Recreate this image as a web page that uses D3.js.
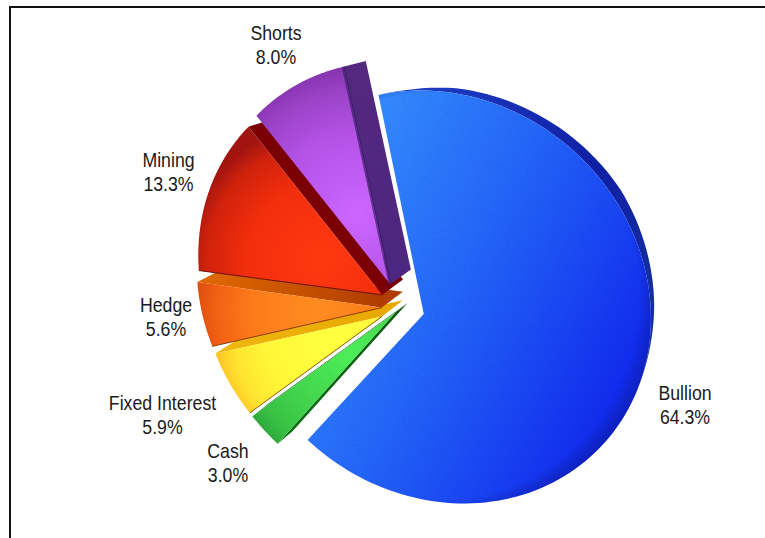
<!DOCTYPE html>
<html>
<head>
<meta charset="utf-8">
<style>
  html, body { margin: 0; background: #fff; }
  svg { display: block; }
  text { font-family: "Liberation Sans", Arial, sans-serif; font-size: 20.5px; fill: #1a1a1a; text-anchor: middle; }
</style>
</head>
<body>
<svg id="chart" width="765" height="538"></svg>
<script src="https://cdn.jsdelivr.net/npm/d3@7"></script>
<script>
// Portfolio shares, in pie order (clockwise from the top of the Bullion slice)
const categories = ["Bullion", "Cash", "Fixed Interest", "Hedge", "Mining", "Shorts"];
const shares = [64.3, 3.0, 5.9, 5.6, 13.3, 8.0];

// Painting order: the slices overlap from lower left up to the top
const faceStops = [
  null,
  ["#4cee58", "#42d44c", "#38c044", "#2ca43a"],
  ["#ffff40", "#fff838", "#ffe430", "#ffc628"],
  ["#ff8c20", "#fc7c1a", "#f26214", "#e25010"],
  ["#ff3810", "#f22e0c", "#d0220c", "#a21410"],
  ["#cc66ff", "#b452e6", "#9a42c6", "#8634ae"]
];
const bullionStops = ["#358cff", "#2466fa", "#122cf0"];
const wallStops = [
  ["#2448d0", "#0f1fa4"],
  ["#0c7014", "#0a5a10"],
  ["#f0b810", "#e8a800"],
  ["#e06a00", "#b03c00"],
  ["#7a0004", "#7a0004"],
  ["#54287f", "#4c2680"]
];
const seamColors = [null, null, "#8a5a00", "#8a3a00", "#6b1000", null];

// Pie plane: slice offsets and radii, in units of the pie radius
const explodeX = [0, -0.1367, -0.2042, -0.2024, -0.1982, -0.1557];
const explodeY = [0, 0.0038, 0.0289, -0.0146, -0.0768, -0.1303];
const radiusScale = [0.98, 1.04, 0.9709, 0.987, 0.9735, 0.9672];
const wallDepth = [0.027, 0.025, 0.042, 0.042, 0.042, 0.042];

const labelX = [685, 228, 162.5, 166, 168.5, 276];
const labelY = [400, 458, 410, 312, 167, 40];

// Homography taking the pie plane to the page, and the point the walls recede to
const view = [170.52, 45.152, 423.76, -12.491, 236.22, 313.95, -0.09345, 0.09131];
const vanish = [880, -70];

function project(u, v) {
  const w = 1 + view[6] * u + view[7] * v;
  return [(view[0] * u + view[1] * v + view[2]) / w, (view[3] * u + view[4] * v + view[5]) / w];
}

const svg = d3.select("#chart");
const defs = svg.append("defs");
const line = d3.line();
const deg = Math.PI / 180;

const slices = d3.pie().sort(null).startAngle(-10 * deg).endAngle(350 * deg)(shares);

// Frame across the top and down the left side
svg.append("path")
  .attr("d", "M10,538V7H765")
  .attr("fill", "none").attr("stroke", "#111").attr("stroke-width", 2);

// Light grain over the blue face
const grain = defs.append("filter").attr("id", "grain")
  .attr("x", 0).attr("y", 0).attr("width", 1).attr("height", 1);
grain.append("feTurbulence").attr("type", "fractalNoise").attr("baseFrequency", 0.8).attr("numOctaves", 2).attr("seed", 4);
grain.append("feColorMatrix").attr("type", "matrix")
  .attr("values", "0 0 0 0 0  0 0 0 0 0  0 0 0 0 0  1.2 0 0 0 -0.5");
grain.append("feComposite").attr("in2", "SourceAlpha").attr("operator", "in");

function gradient(kind, id, attrs, stops, offsets) {
  const g = defs.append(kind).attr("id", id).attr("gradientUnits", "userSpaceOnUse");
  Object.entries(attrs).forEach(([k, v]) => g.attr(k, v));
  stops.forEach((c, i) => {
    const s = g.append("stop").attr("offset", offsets[i]).attr("stop-color", c.split("|")[0]);
    if (c.includes("|")) s.attr("stop-opacity", +c.split("|")[1]);
  });
  return `url(#${id})`;
}

slices.forEach((d, i) => {
  const g = svg.append("g").attr("class", "slice");
  const ex = explodeX[i], ey = explodeY[i], r = radiusScale[i];
  const angles = d3.range(0, 121).map(k => d.startAngle + (d.endAngle - d.startAngle) * k / 120);
  const arcPts = angles.map(t => project(ex + r * Math.sin(t), ey - r * Math.cos(t)));
  const apex = project(ex, ey);
  const start = arcPts[0], end = arcPts[arcPts.length - 1], mid = arcPts[60];
  const recede = (p, t) => [p[0] + (vanish[0] - p[0]) * t, p[1] + (vanish[1] - p[1]) * t];
  const depth = wallDepth[i];

  const wallFill = gradient("linearGradient", `wall${i}`,
    { x1: end[0], y1: end[1], x2: apex[0], y2: apex[1] }, wallStops[i], [0, 1]);

  if (i === 0) {
    // Only the rim of the large slice shows, fading out towards its right side
    const profile = d3.scaleLinear().domain([-10, 6, 55, 85, 104]).range([0, 0.85, 1, 0.55, 0]).clamp(true);
    const back = arcPts.map((p, k) => recede(p, depth * profile(angles[k] / deg)));
    const rimFill = gradient("linearGradient", "rim0",
      { x1: start[0], y1: start[1], x2: 650, y2: 320 }, ["#1f3fc8", "#0f1fa4", "#14309e"], [0, 0.6, 1]);
    g.append("path")
      .attr("d", line(arcPts.concat(back.slice().reverse())) + "Z")
      .attr("fill", rimFill);
  } else {
    // Cut faces along the radial edges
    const walls = i === 1 ? [start, end] : [end];
    walls.forEach(p => {
      g.append("path")
        .attr("d", line([apex, p, recede(p, depth), recede(apex, depth)]) + "Z")
        .attr("fill", wallFill);
    });
  }

  const facePath = line([apex, ...arcPts]) + "Z";
  if (i === 0) {
    const base = gradient("linearGradient", "face0",
      { x1: 330, y1: 190, x2: 640, y2: 350 }, bullionStops, [0, 0.45, 1]);
    const rim = gradient("radialGradient", "shade0",
      { cx: 436, cy: 297, r: 219 }, ["#0a1478|0", "#0a1478|0", "#0a1478|0.35"], [0, 0.93, 1]);
    g.append("path").attr("d", facePath).attr("fill", base);
    g.append("path").attr("d", facePath).attr("fill", rim);
    g.append("path").attr("d", facePath).attr("fill", "#000").attr("filter", "url(#grain)").attr("opacity", 0.14);
  } else {
    const c = [apex[0] + (mid[0] - apex[0]) * 0.35, apex[1] + (mid[1] - apex[1]) * 0.35];
    const radius = Math.hypot(mid[0] - apex[0], mid[1] - apex[1]) * 0.67;
    const fill = gradient("radialGradient", `face${i}`,
      { cx: c[0], cy: c[1], r: radius }, faceStops[i], [0, 0.55, 0.85, 1]);
    g.append("path").attr("d", facePath).attr("fill", fill);
  }

  if (seamColors[i]) {
    g.append("path").attr("d", line([start, apex])).attr("fill", "none")
      .attr("stroke", seamColors[i]).attr("stroke-width", 1);
  }
  if (i === 5) {
    // Soft shadow where the purple face meets its cut face
    g.append("path").attr("d", line([end, apex])).attr("fill", "none")
      .attr("stroke", "#3a1a68").attr("stroke-width", 3).attr("opacity", 0.7);
  }
});

// Category name above its share, in a tall narrow setting
const fmt = d3.format(".1f");
const labels = svg.append("g").selectAll("text").data(categories).join("text")
  .attr("transform", (c, i) => `translate(${labelX[i]},${labelY[i]}) scale(0.865,1)`);
labels.append("tspan").attr("x", 0).attr("y", 0).text(c => c);
labels.append("tspan").attr("x", 0).attr("y", 24).text((c, i) => fmt(shares[i]) + "%");
</script>
</body>
</html>
